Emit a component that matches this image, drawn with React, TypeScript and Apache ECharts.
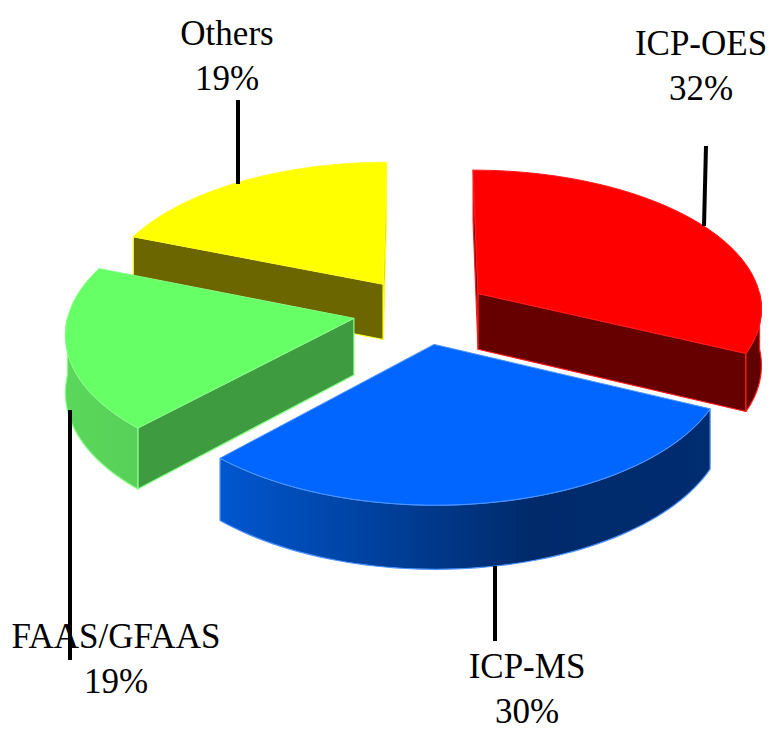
import React, { useEffect, useRef } from "react";
import * as echarts from "echarts";

const categories = ["ICP-OES", "ICP-MS", "FAAS/GFAAS", "Others"];
const shares = [32, 30, 19, 19];
const percentLabels = ["32%", "30%", "19%", "19%"];

const palette = [
  { top: "#ff0000", cut: "#660000", edge: "#ff1a1a", wall: [[0, "#600000"], [1, "#600000"]] },
  { top: "#0066ff", cut: "#002a66", edge: "#4d94ff", wall: [[0, "#0057d0"], [0.64, "#002a6a"], [1, "#002c70"]] },
  { top: "#66ff66", cut: "#3f9b3f", edge: "#88ff88", wall: [[0, "#5ad85a"], [1, "#58d058"]] },
  { top: "#ffff00", cut: "#6b6600", edge: "#ffff20", wall: [[0, "#6b6600"], [1, "#6b6600"]] },
];
const paintOrder = [1, 3, 2, 0];

const VIEW = { cx: 421, cy: 311, rx: 285, ry: 138.4, persp: 0.0964, depth: 56.5, explode: 0.24 };
const labelBoxes = [
  { x: 701, y: 66 },
  { x: 527, y: 689 },
  { x: 116, y: 659 },
  { x: 227, y: 56 },
];
const leaders = [
  [706, 146, 704, 226],
  [495, 566, 495, 641],
  [70, 410, 70, 660],
  [238, 100, 238, 184],
];

function project(u: number, v: number, z: number) {
  const d = 1 + VIEW.persp * v;
  return [VIEW.cx + (VIEW.rx * u) / d, VIEW.cy - (VIEW.ry * v) / d + (z * VIEW.depth) / d];
}

const total = shares.reduce((a, b) => a + b, 0);

function renderSlice(params: any, api: any) {
  const i = params.dataIndex;
  const before = shares.slice(0, i).reduce((a, b) => a + b, 0);
  const a0 = (before / total) * Math.PI * 2;
  const a1 = ((before + api.value(0)) / total) * Math.PI * 2;
  const mid = (a0 + a1) / 2;
  const ax = VIEW.explode * Math.sin(mid);
  const ay = VIEW.explode * Math.cos(mid);
  const rim = (from: number, to: number, z: number) => {
    const pts: number[][] = [];
    const n = 60;
    for (let k = 0; k <= n; k++) {
      const t = from + ((to - from) * k) / n;
      pts.push(project(ax + Math.sin(t), ay + Math.cos(t), z));
    }
    return pts;
  };
  const c = palette[i];
  const topRim = rim(a0, a1, 0);
  const apex = project(ax, ay, 0);
  const apexB = project(ax, ay, 1);
  const base = paintOrder[i] * 10;
  const poly = (points: number[][], fill: any, z2: number, lw = 1.2) => ({
    type: "polygon",
    z2: base + z2,
    shape: { points },
    style: { fill, stroke: c.edge, lineWidth: lw, lineJoin: "round" },
  });
  const wallFill = {
    type: "linear",
    x: 0,
    y: 0,
    x2: 1,
    y2: 0,
    colorStops: c.wall.map(([offset, color]) => ({ offset, color })),
  };
  const children: any[] = [];
  // A cut face is drawn only if it turns towards the viewer.
  if (Math.cos(a0 - Math.PI / 2) <= 0.001) {
    children.push(poly([apex, project(ax + Math.sin(a0), ay + Math.cos(a0), 0), project(ax + Math.sin(a0), ay + Math.cos(a0), 1), apexB], c.cut, 1));
  }
  if (Math.cos(a1 + Math.PI / 2) <= 0.001) {
    children.push(poly([apex, project(ax + Math.sin(a1), ay + Math.cos(a1), 0), project(ax + Math.sin(a1), ay + Math.cos(a1), 1), apexB], c.cut, 2));
  }
  // The outer wall shows only on the front half of the rim.
  const w0 = Math.max(a0, Math.PI / 2);
  const w1 = Math.min(a1, (Math.PI * 3) / 2);
  if (w1 > w0) {
    children.push(poly([...rim(w0, w1, 0), ...rim(w0, w1, 1).reverse()], wallFill, 3));
  }
  children.push(poly([apex, ...topRim], c.top, 4, 1));
  return { type: "group", children };
}

const font = '"Liberation Serif", serif';

export default function App() {
  const ref = useRef<HTMLDivElement>(null);
  useEffect(() => {
    const chart = echarts.init(ref.current!, undefined, { renderer: "svg" });
    chart.setOption({
      animation: false,
      backgroundColor: "#ffffff",
      graphic: [
        ...leaders.map(([x1, y1, x2, y2]) => ({
          type: "line",
          z: 10,
          shape: { x1, y1, x2, y2 },
          style: { stroke: "#000000", lineWidth: 4 },
        })),
        ...categories.map((name, i) => ({
          type: "text",
          z: 11,
          x: labelBoxes[i].x,
          y: labelBoxes[i].y,
          style: {
            text: `${name}\n${percentLabels[i]}`,
            fill: "#000000",
            font: `35px ${font}`,
            lineHeight: 45,
            align: "center",
            verticalAlign: "middle",
          },
        })),
      ],
      series: [
        {
          type: "custom",
          coordinateSystem: "none",
          silent: true,
          renderItem: renderSlice,
          data: shares.map((v, i) => ({ name: categories[i], value: [v] })),
        },
      ],
    });
    return () => chart.dispose();
  }, []);
  return <div ref={ref} style={{ position: "fixed", left: 0, top: 0, width: 780, height: 742 }} />;
}
